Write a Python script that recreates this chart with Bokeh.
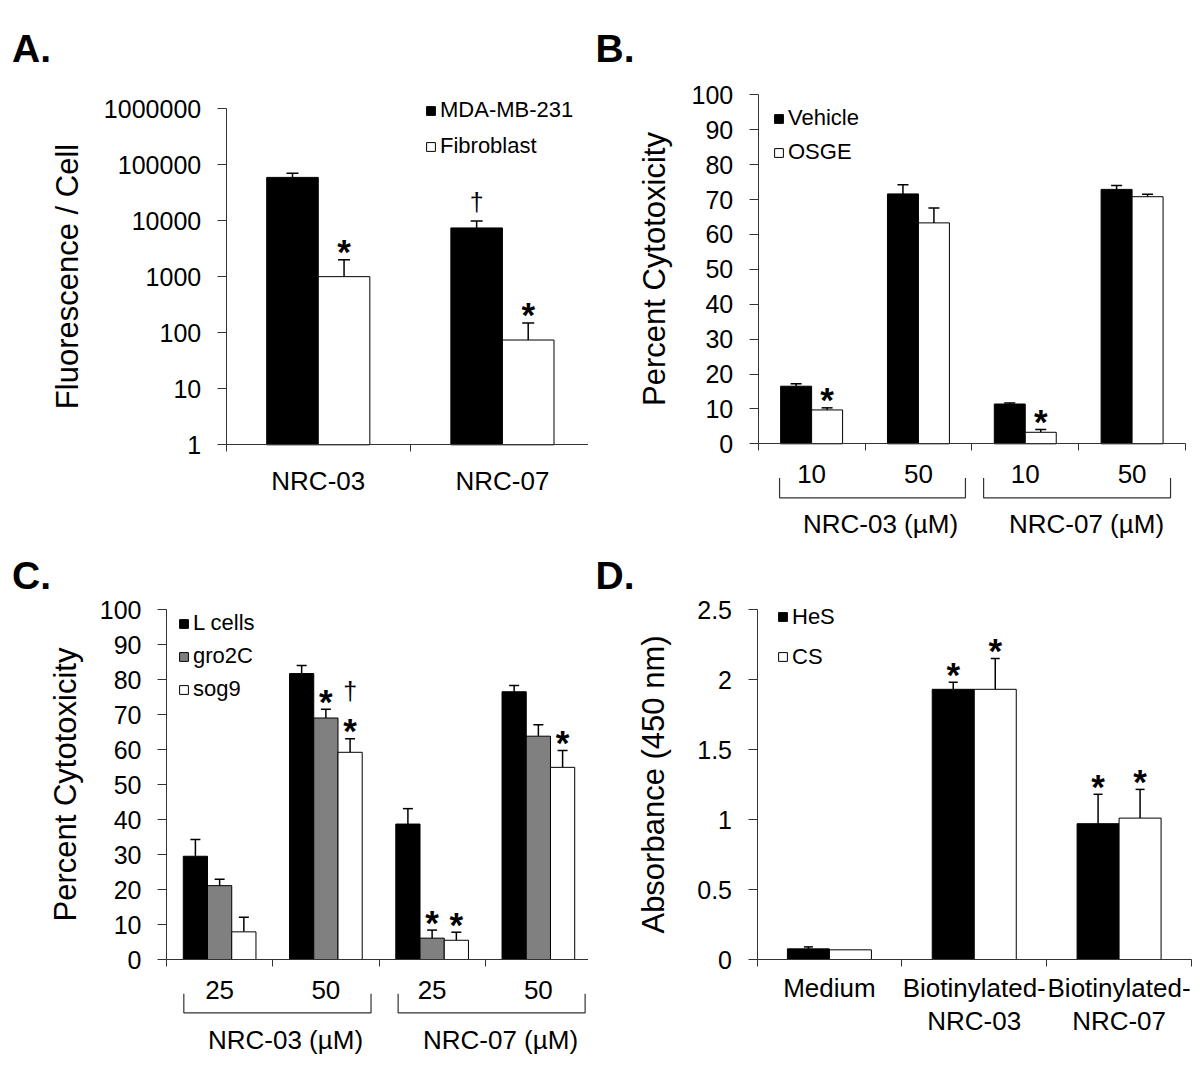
import math
from bokeh.plotting import figure
from bokeh.models import (Range1d, FixedTicker, NumeralTickFormatter, Whisker, TeeHead,
                          ColumnDataSource, Legend, LegendItem)
from bokeh.layouts import column, row
from bokeh.embed import file_html
from bokeh.resources import INLINE
from bokeh.core.properties import value

FONT = "Liberation Sans"

# ---------------- data ----------------
# Panel A (log scale)
a_categories = ["NRC-03", "NRC-07"]
a_series = ["MDA-MB-231", "Fibroblast"]
a_mda = [59000, 7400]
a_mda_err = [11000, 2400]
a_fib = [1000, 74]
a_fib_err = [1000, 75]
a_mda_marks = ["", "†"]
a_fib_marks = ["*", "*"]
a_yticks = [1, 10, 100, 1000, 10000, 100000, 1000000]

# Panel B
b_doses = ["10", "50", "10", "50"]
b_groups = ["NRC-03 (µM)", "NRC-07 (µM)"]
b_series = ["Vehicle", "OSGE"]
b_vehicle = [16.5, 71.6, 11.4, 72.9]
b_vehicle_err = [0.7, 2.6, 0.3, 1.1]
b_osge = [9.7, 63.3, 3.3, 70.8]
b_osge_err = [0.6, 4.3, 0.8, 0.7]
b_vehicle_marks = ["", "", "", ""]
b_osge_marks = ["*", "", "*", ""]
b_yticks = [0, 10, 20, 30, 40, 50, 60, 70, 80, 90, 100]

# Panel C
c_doses = ["25", "50", "25", "50"]
c_groups = ["NRC-03 (µM)", "NRC-07 (µM)"]
c_series = ["L cells", "gro2C", "sog9"]
c_lcells = [29.5, 81.7, 38.7, 76.5]
c_lcells_err = [4.8, 2.3, 4.4, 1.8]
c_gro2c = [21.1, 69.0, 6.1, 63.8]
c_gro2c_err = [1.8, 2.5, 2.3, 3.3]
c_sog9 = [7.9, 59.2, 5.5, 54.9]
c_sog9_err = [4.2, 3.9, 2.3, 4.8]
c_lcells_marks = ["", "", "", ""]
c_gro2c_marks = ["", "*", "*", ""]
c_sog9_marks = ["", "†*", "*", "*"]
c_yticks = [0, 10, 20, 30, 40, 50, 60, 70, 80, 90, 100]

# Panel D
d_categories = ["Medium", "Biotinylated-\nNRC-03", "Biotinylated-\nNRC-07"]
d_series = ["HeS", "CS"]
d_hes = [0.076, 1.93, 0.97]
d_hes_err = [0.014, 0.05, 0.21]
d_cs = [0.069, 1.93, 1.01]
d_cs_err = [0.0, 0.22, 0.205]
d_hes_marks = ["", "*", "*"]
d_cs_marks = ["", "*", "*"]
d_yticks = [0, 0.5, 1, 1.5, 2, 2.5]

AXIS_COLOR = "#333333"


def panel(origin, size, xmap, ymap, log=False):
    ox, oy = origin
    W, H = size
    xd0, xp0, xd1, xp1 = xmap
    yd0, yp0, yd1, yp1 = ymap
    if log:
        yd0, yd1 = math.log10(yd0), math.log10(yd1)
    sx = (xp1 - xp0) / (xd1 - xd0)
    sy = (yp1 - yp0) / (yd1 - yd0)

    def fx(px):
        return xd0 + (px - xp0) / sx

    def fy(py):
        v = yd0 + (py - yp0) / sy
        return 10 ** v if log else v

    p = figure(width=W, height=H,
               x_range=Range1d(fx(ox), fx(ox + W)),
               y_range=Range1d(fy(oy + H), fy(oy)),
               y_axis_type="log" if log else "linear",
               output_backend="svg", toolbar_location=None,
               min_border=0, min_border_left=0, min_border_right=0,
               min_border_top=0, min_border_bottom=0,
               outline_line_color=None,
               background_fill_color="white", border_fill_color="white")
    p.xgrid.visible = False
    p.ygrid.visible = False
    return p, fx, fy


def style_axes(p, labels, yticks, ybounds, ybase, ylabel, yfmt, ylab_standoff,
               xlab_standoff=14, line_height=1.2):
    n = len(labels)
    xa = p.xaxis[0]
    ya = p.yaxis[0]
    centers = [i + 0.5 for i in range(n)]
    xa.fixed_location = ybase
    xa.bounds = (0, n)
    xa.ticker = FixedTicker(ticks=centers, minor_ticks=list(range(n + 1)))
    xa.major_label_overrides = dict(zip(centers, labels))
    xa.major_tick_out = 0
    xa.major_tick_in = 0
    xa.minor_tick_out = 7
    xa.minor_tick_in = 0
    xa.major_label_standoff = xlab_standoff
    xa.major_label_text_font = FONT
    xa.major_label_text_font_size = "26px"
    xa.major_label_text_color = "black"
    xa.major_label_text_line_height = line_height
    xa.axis_line_color = AXIS_COLOR
    xa.minor_tick_line_color = AXIS_COLOR
    xa.major_tick_line_color = AXIS_COLOR

    ya.fixed_location = 0
    ya.bounds = ybounds
    ya.ticker = FixedTicker(ticks=yticks, minor_ticks=[])
    ya.formatter = NumeralTickFormatter(format=yfmt)
    ya.major_tick_out = 9
    ya.major_tick_in = 0
    ya.minor_tick_out = 0
    ya.minor_tick_in = 0
    ya.major_label_standoff = 16
    ya.major_label_text_font = FONT
    ya.major_label_text_font_size = "25px"
    ya.major_label_text_color = "black"
    ya.axis_line_color = AXIS_COLOR
    ya.major_tick_line_color = AXIS_COLOR
    ya.axis_label = ylabel
    ya.axis_label_text_font = FONT
    ya.axis_label_text_font_size = "31px"
    ya.axis_label_text_font_style = "normal"
    ya.axis_label_text_color = "black"
    ya.axis_label_standoff = ylab_standoff


def add_series(p, values, errs, marks, idx, nser, bw, bottom, fill, head):
    xs = [i + 0.5 + (idx - (nser - 1) / 2) * bw for i in range(len(values))]
    r = p.vbar(x=xs, top=values, bottom=bottom, width=bw, fill_color=fill,
               line_color="black", line_width=1)
    ex = [x for x, e in zip(xs, errs) if e > 0]
    lo = [v for v, e in zip(values, errs) if e > 0]
    hi = [v + e for v, e in zip(values, errs) if e > 0]
    src = ColumnDataSource(dict(x=ex, lower=lo, upper=hi))
    w = Whisker(source=src, base="x", lower="lower", upper="upper", dimension="height",
                lower_head=None,
                upper_head=TeeHead(size=head, line_width=1.5, line_color="black"),
                line_width=1.5, line_color="black")
    p.add_layout(w)
    # significance marks (stacked from bottom up)
    sx, sy, st = [], [], []
    dx, dy, dt, do = [], [], [], []
    for x, v, e, m in zip(xs, values, errs, marks):
        if not m:
            continue
        top = v + e
        has_star = "*" in m
        if has_star:
            sx.append(x); sy.append(top); st.append("*")
        if "†" in m:
            dx.append(x); dy.append(top); dt.append("†")
            do.append(-48 if has_star else -19)
    if sx:
        p.text(x=sx, y=sy, text=st, text_font=value(FONT), text_font_size="35px",
               text_font_style="bold", text_align="center", text_baseline="alphabetic",
               text_color="black", y_offset=-8)
    if dx:
        src2 = ColumnDataSource(dict(x=dx, y=dy, t=dt, o=do))
        p.text(x="x", y="y", text="t", y_offset="o", source=src2, text_font=value(FONT),
               text_font_size="25px", text_align="center", text_baseline="alphabetic",
               text_color="black")
    return r


def add_title(p, fx, fy, txt, px, py):
    p.text(x=[fx(px)], y=[fy(py)], text=[txt], text_font=value(FONT),
           text_font_size="39px", text_font_style="bold", text_align="left",
           text_baseline="alphabetic", text_color="black")


def add_legend(p, items, origin, H, glyph_left, first_center, spacing):
    n = len(items)
    lh = 26
    leg_h = n * lh + (n - 1) * spacing
    top_local = first_center - lh / 2 - origin[1]
    leg = Legend(items=[LegendItem(label=l, renderers=[r]) for l, r in items],
                 location=(glyph_left - origin[0], H - top_local - leg_h),
                 orientation="vertical",
                 glyph_width=11, glyph_height=11, label_height=lh, label_standoff=4,
                 spacing=int(spacing), padding=0, margin=0, border_line_color=None,
                 background_fill_alpha=0, label_text_font=FONT,
                 label_text_font_size="22px", label_text_color="black")
    p.add_layout(leg)


def add_brackets(p, fx, fy, spans, ytop, ybot, groups, label_x, label_y):
    xs, ys = [], []
    for (a, b) in spans:
        xs.append([a, a, b, b])
        ys.append([fy(ytop), fy(ybot), fy(ybot), fy(ytop)])
    p.multi_line(xs=xs, ys=ys, line_color=AXIS_COLOR, line_width=1.2)
    p.text(x=[fx(v) for v in label_x], y=[fy(label_y)] * len(label_x), text=groups,
           text_font=value(FONT), text_font_size="26px", text_align="center",
           text_baseline="middle", text_color="black")


ROW1_H = 540
ROW2_H = 1074 - ROW1_H
LEFT_W = 588
RIGHT_W = 1200 - LEFT_W

# ---------------- Panel A ----------------
oA = (0, 0)
pA, fxA, fyA = panel(oA, (LEFT_W, ROW1_H), (0, 225.7, 2, 594), (1, 444.3, 1e6, 108), log=True)
style_axes(pA, a_categories, a_yticks, (1, 1e6), 1, "Fluorescence / Cell", "0", 16)
rA1 = add_series(pA, a_mda, a_mda_err, a_mda_marks, 0, 2, 0.28, 1, "black", 12)
rA2 = add_series(pA, a_fib, a_fib_err, a_fib_marks, 1, 2, 0.28, 1, "white", 12)
add_title(pA, fxA, fyA, "A.", 11.5, 48)
add_legend(pA, [(a_series[0], rA1), (a_series[1], rA2)], oA, ROW1_H, 425, 110, 10)

# ---------------- Panel B ----------------
oB = (LEFT_W, 0)
pB, fxB, fyB = panel(oB, (RIGHT_W, ROW1_H), (0, 757.7, 4, 1185), (0, 443.3, 100, 94.3))
style_axes(pB, b_doses, b_yticks, (0, 100), 0, "Percent Cytotoxicity", "0", 17)
rB1 = add_series(pB, b_vehicle, b_vehicle_err, b_vehicle_marks, 0, 2, 0.29, 0, "black", 11)
rB2 = add_series(pB, b_osge, b_osge_err, b_osge_marks, 1, 2, 0.29, 0, "white", 11)
add_title(pB, fxB, fyB, "B.", 595, 48)
add_legend(pB, [(b_series[0], rB1), (b_series[1], rB2)], oB, ROW1_H, 773, 118, 8)
add_brackets(pB, fxB, fyB, [(0.2, 1.94), (2.11, 3.86)], 477.5, 497.3, b_groups,
             [880, 1086], 523)

# ---------------- Panel C ----------------
oC = (0, ROW1_H)
pC, fxC, fyC = panel(oC, (LEFT_W, ROW2_H), (0, 166, 4, 591), (0, 959, 100, 609))
style_axes(pC, c_doses, c_yticks, (0, 100), 0, "Percent Cytotoxicity", "0", 14)
rC1 = add_series(pC, c_lcells, c_lcells_err, c_lcells_marks, 0, 3, 0.228, 0, "black", 10)
rC2 = add_series(pC, c_gro2c, c_gro2c_err, c_gro2c_marks, 1, 3, 0.228, 0, "#808080", 10)
rC3 = add_series(pC, c_sog9, c_sog9_err, c_sog9_marks, 2, 3, 0.228, 0, "white", 10)
add_title(pC, fxC, fyC, "C.", 11.5, 575)
add_legend(pC, [(c_series[0], rC1), (c_series[1], rC2), (c_series[2], rC3)], oC, ROW2_H,
           178, 623.3, 7)
add_brackets(pC, fxC, fyC, [(0.163, 1.925), (2.18, 3.94)], 993.3, 1012.3, c_groups,
             [285, 500], 1039)

# ---------------- Panel D ----------------
oD = (LEFT_W, ROW1_H)
pD, fxD, fyD = panel(oD, (RIGHT_W, ROW2_H), (0, 756.5, 3, 1191), (0, 959, 2.5, 609))
style_axes(pD, d_categories, d_yticks, (0, 2.5), 0, "Absorbance (450 nm)", "0.[0]", 24,
           xlab_standoff=6, line_height=1.1)
rD1 = add_series(pD, d_hes, d_hes_err, d_hes_marks, 0, 2, 0.29, 0, "black", 9)
rD2 = add_series(pD, d_cs, d_cs_err, d_cs_marks, 1, 2, 0.29, 0, "white", 9)
add_title(pD, fxD, fyD, "D.", 595, 575)
add_legend(pD, [(d_series[0], rD1), (d_series[1], rD2)], oD, ROW2_H, 777, 616.7, 14)

layout = column(row(pA, pB), row(pC, pD))
open("out.html", "w").write(file_html(layout, INLINE))
